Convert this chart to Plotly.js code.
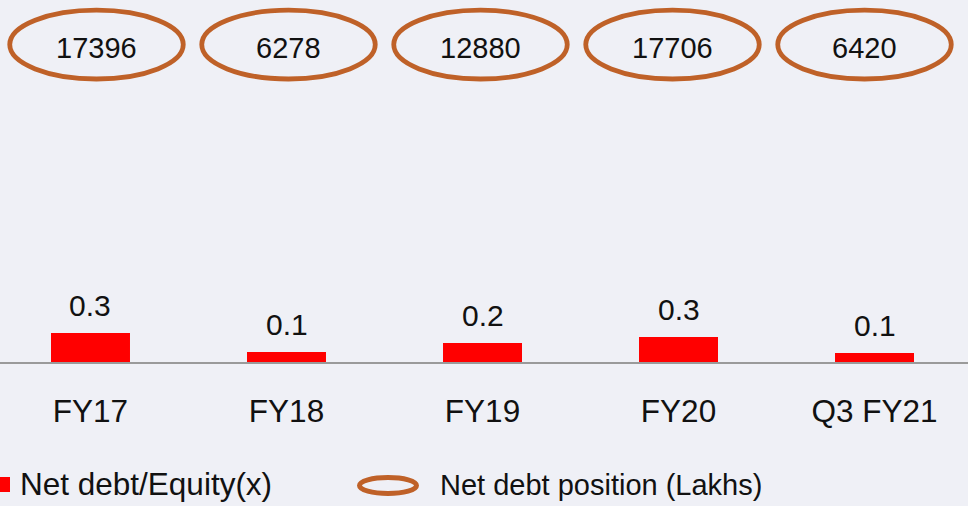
<!DOCTYPE html>
<html>
<head>
<meta charset="utf-8">
<script src="https://cdn.plot.ly/plotly-3.0.1.min.js"></script>
<style>
html,body{margin:0;padding:0;background:#EFF0F6;}
#chart{width:968px;height:506px;}
</style>
</head>
<body>
<div id="chart"></div>
<script>
// ---- data ----
const categories = ["FY17", "FY18", "FY19", "FY20", "Q3 FY21"];
const netDebtEquity = [0.29, 0.10, 0.19, 0.25, 0.09];
const netDebtPosition = [17396, 6278, 12880, 17706, 6420];
const seriesNames = ["Net debt/Equity(x)", "Net debt position (Lakhs)"];

// ---- styling ----
const FONT = 'Arial, "Liberation Sans", sans-serif';
const BG = '#EFF0F6';
const BAR = '#FF0000';
const RING = '#BF6128';
const W = 968, PLOT_H = 362;
const px2x = p => p / W;
const py2y = p => (PLOT_H - p) / PLOT_H;

const idx = categories.map((c, i) => i);

const bars = {
  type: 'bar',
  x: categories,
  y: netDebtEquity,
  name: seriesNames[0],
  marker: {color: BAR},
  hoverinfo: 'x+y',
  showlegend: false
};

const annotations = [];
const shapes = [];

// bar value labels
categories.forEach((c, i) => {
  annotations.push({
    xref: 'x', yref: 'y', x: c, y: netDebtEquity[i],
    text: (Math.round(netDebtEquity[i] * 10) / 10).toFixed(1),
    showarrow: false, yanchor: 'middle', yshift: 28,
    font: {family: FONT, size: 30, color: '#111'}
  });
});

// ellipses with net debt positions
const ellHalfW = 0.4518;
idx.forEach((i) => {
  shapes.push({
    type: 'circle', xref: 'x2', yref: 'paper',
    x0: i - ellHalfW, x1: i + ellHalfW,
    y0: py2y(79), y1: py2y(10.2),
    line: {color: RING, width: 4.8}
  });
  annotations.push({
    xref: 'x2', yref: 'paper', x: i, y: py2y(48.5),
    text: String(netDebtPosition[i]), showarrow: false,
    xanchor: 'center', yanchor: 'middle',
    font: {family: FONT, size: 29, color: '#111'}
  });
});

// manual legend
shapes.push({
  type: 'rect', xref: 'paper', yref: 'paper',
  x0: px2x(-6), x1: px2x(10), y0: py2y(492), y1: py2y(477),
  fillcolor: BAR, line: {width: 0}
});
annotations.push({
  xref: 'paper', yref: 'paper', x: px2x(18), y: py2y(484),
  text: seriesNames[0], showarrow: false, xanchor: 'left', yanchor: 'middle',
  font: {family: FONT, size: 31.5, color: '#111'}
});
shapes.push({
  type: 'circle', xref: 'paper', yref: 'paper',
  x0: px2x(359.5), x1: px2x(416.5), y0: py2y(493.5), y1: py2y(477.5),
  line: {color: RING, width: 5}
});
annotations.push({
  xref: 'paper', yref: 'paper', x: px2x(438), y: py2y(484.5),
  text: seriesNames[1], showarrow: false, xanchor: 'left', yanchor: 'middle',
  font: {family: FONT, size: 29, color: '#111'}
});

const layout = {
  width: 968, height: 506,
  margin: {l: 0, r: 0, t: 0, b: 144, pad: 0},
  paper_bgcolor: BG, plot_bgcolor: BG,
  font: {family: FONT, color: '#111'},
  bargap: 0.597,
  showlegend: false,
  xaxis: {
    type: 'category',
    range: [-0.4617, 4.477],
    showline: true, linecolor: '#9A9A9A', linewidth: 1.5,
    showgrid: false, zeroline: false, ticks: '',
    ticklabelstandoff: 21,
    tickfont: {family: FONT, size: 31.5, color: '#111'},
    fixedrange: true
  },
  xaxis2: {
    overlaying: 'x', type: 'linear',
    range: [-0.5026, 4.539], visible: false, fixedrange: true
  },
  yaxis: {
    range: [0, 3.62], visible: false, showgrid: false, zeroline: false, fixedrange: true
  },
  shapes: shapes,
  annotations: annotations
};

Plotly.newPlot('chart', [bars], layout, {displayModeBar: false, staticPlot: true});
</script>
</body>
</html>
